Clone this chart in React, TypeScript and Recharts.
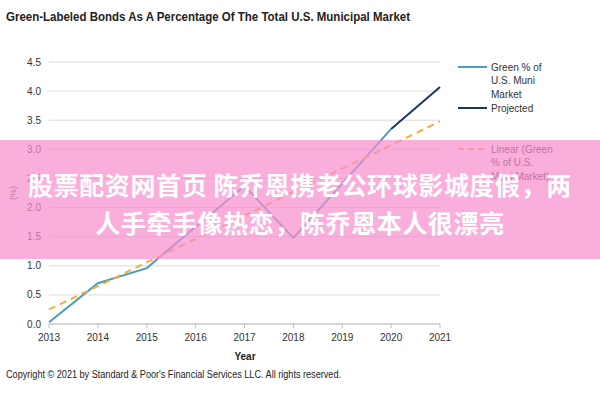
import { LineChart, Line, XAxis, YAxis, CartesianGrid } from "recharts";

// categorias e valores
const years = ["2013", "2014", "2015", "2016", "2017", "2018", "2019", "2020", "2021"];
const greenShare = [0.03, 0.7, 0.96, 1.67, 2.37, 1.48, 2.41, 3.35, null];
const projected = [null, null, null, null, null, null, null, 3.35, 4.07];
const linearTrend = [0.25, 0.65, 1.06, 1.46, 1.86, 2.27, 2.67, 3.07, 3.48];
const yTicks = [0, 0.5, 1, 1.5, 2, 2.5, 3, 3.5, 4, 4.5];

const BLUE = "#4b9bc9";
const NAVY = "#1c3660";
const ORANGE = "#f4ae3a";
const FONT = "'Liberation Sans', Arial, sans-serif";

const data = years.map((y, i) => ({
  year: y,
  green: greenShare[i],
  projected: projected[i],
  linear: linearTrend[i],
}));

// legenda desenhada à parte, à direita do gráfico
function LegendBox() {
  const txt = { fontFamily: FONT, fontSize: 10, fill: "#333" };
  return (
    <g transform="translate(455, 55)">
      <line x1={3} x2={32} y1={12} y2={12} stroke={BLUE} strokeWidth={2} />
      <text x={36} y={15.5} {...txt}>Green % of</text>
      <text x={36} y={29} {...txt}>U.S. Muni</text>
      <text x={36} y={42.5} {...txt}>Market</text>
      <line x1={3} x2={32} y1={53} y2={53} stroke={NAVY} strokeWidth={2} />
      <text x={36} y={56.5} {...txt}>Projected</text>
      <line x1={3} x2={32} y1={94} y2={94} stroke={ORANGE} strokeWidth={2} strokeDasharray="6 4" />
      <text x={36} y={97.5} {...txt}>Linear (Green</text>
      <text x={36} y={111} {...txt}>% of U.S.</text>
      <text x={36} y={124.5} {...txt}>Muni Market)</text>
    </g>
  );
}

export default function App() {
  return (
    <div style={{ position: "absolute", left: 0, top: 0, width: 600, height: 400, background: "#fff", overflow: "hidden" }}>
      <LineChart width={600} height={400} data={data} margin={{ top: 62, right: 160, bottom: 56, left: 0 }}>
        <CartesianGrid vertical={false} stroke="#dcdcdc" />
        <XAxis
          dataKey="year"
          height={20}
          stroke="#bfbfbf"
          tickSize={4}
          tickMargin={6}
          tick={{ fill: "#333", fontSize: 10, fontFamily: FONT }}
        />
        <YAxis
          width={49}
          domain={[0, 4.5]}
          ticks={yTicks}
          axisLine={false}
          tickLine={false}
          tickFormatter={(v: number) => v.toFixed(1)}
          tick={{ fill: "#333", fontSize: 10, fontFamily: FONT }}
        />
        <Line dataKey="green" stroke={BLUE} strokeWidth={2} dot={false} isAnimationActive={false} />
        <Line dataKey="projected" stroke={NAVY} strokeWidth={2} dot={false} isAnimationActive={false} />
        <Line dataKey="linear" stroke={ORANGE} strokeWidth={2} strokeDasharray="7 5" dot={false} isAnimationActive={false} />
      </LineChart>

      <svg width={600} height={400} style={{ position: "absolute", left: 0, top: 0, pointerEvents: "none" }}>
        <text x={6} y={21} fontFamily={FONT} fontWeight="bold" fontSize={13} fill="#222" textLength={404} lengthAdjust="spacingAndGlyphs">
          Green-Labeled Bonds As A Percentage Of The Total U.S. Municipal Market
        </text>
        <text x={16} y={193} fontFamily={FONT} fontSize={9} fill="#333" textAnchor="middle" transform="rotate(-90 16 193)">
          (%)
        </text>
        <text x={245} y={360} fontFamily={FONT} fontWeight="bold" fontSize={10} fill="#222" textAnchor="middle">
          Year
        </text>
        <text x={6} y={378} fontFamily={FONT} fontSize={10} fill="#222" textLength={335} lengthAdjust="spacingAndGlyphs">
          Copyright © 2021 by Standard &amp; Poor's Financial Services LLC. All rights reserved.
        </text>
        <LegendBox />
      </svg>

      <div
        style={{
          position: "absolute",
          left: 0,
          top: 140,
          width: 600,
          height: 119,
          background: "rgba(248, 140, 205, 0.7)",
          color: "#fff",
          fontFamily: "'Noto Sans CJK SC', sans-serif",
          fontWeight: "bold",
          fontSize: 25,
          letterSpacing: 0.6,
          lineHeight: "38px",
          textAlign: "center",
          paddingTop: 25,
          boxSizing: "border-box",
        }}
      >
        <div>股票配资网首页 陈乔恩携老公环球影城度假，两</div>
        <div>人手牵手像热恋，陈乔恩本人很漂亮</div>
      </div>
    </div>
  );
}
